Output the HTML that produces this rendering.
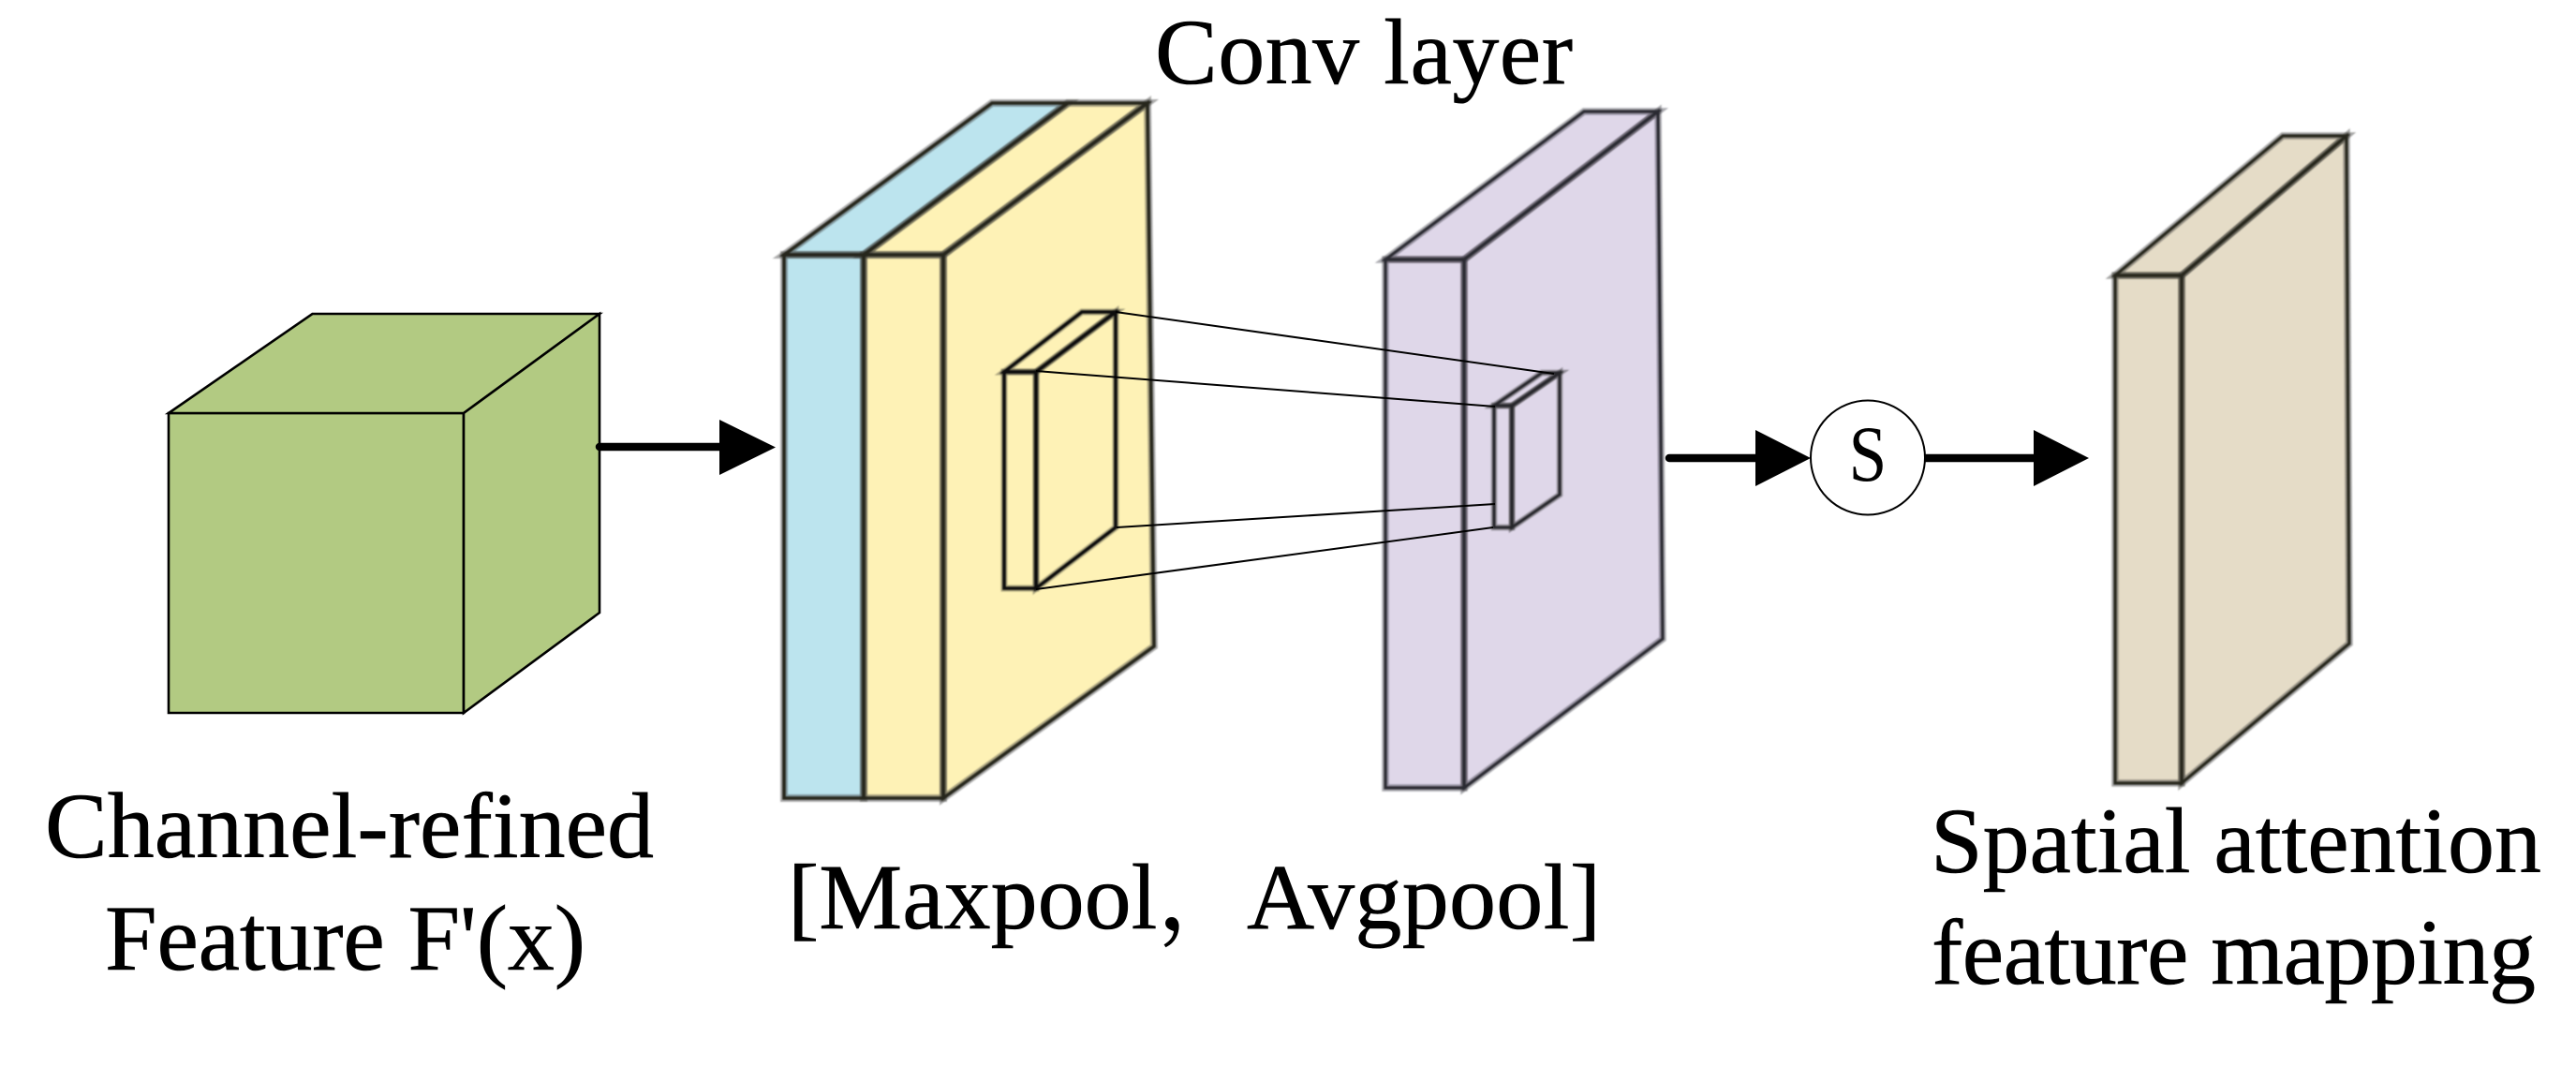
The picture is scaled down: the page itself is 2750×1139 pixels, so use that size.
<!DOCTYPE html>
<html>
<head>
<meta charset="utf-8">
<style>
html,body{margin:0;padding:0;background:#fff;width:2750px;height:1139px;overflow:hidden}
svg{display:block}
text{font-family:"Liberation Serif","Noto Serif CJK SC",serif;font-size:100px;fill:#000;stroke:#000;stroke-width:.6px}
</style>
</head>
<body>
<svg width="2750" height="1139" viewBox="0 0 2750 1139" xmlns="http://www.w3.org/2000/svg">
<defs>
<filter id="b" x="-5%" y="-5%" width="110%" height="110%"><feGaussianBlur stdDeviation="0.7"/></filter>
<g id="bl1">
<polygon points="837,272 922,272 922,852 837,852"/>
<polygon points="837,272 1059,110 1140,110 922,272"/>
<polygon points="922,272 1007,272 1007,852 922,852"/>
<polygon points="922,272 1140,110 1225,110 1007,272"/>
<polygon points="1007,272 1225,110 1232,690 1007,852"/>
</g>
<g id="in1">
<polygon points="1072,397 1106,397 1106,628 1072,628"/>
<polygon points="1072,397 1155,333 1191,333 1106,397"/>
<polygon points="1106,397 1191,333 1191,563 1106,628"/>
</g>
<g id="bl2">
<polygon points="1479,277 1563,277 1563,841 1479,841"/>
<polygon points="1479,277 1691,119 1770,119 1563,277"/>
<polygon points="1563,277 1770,119 1775,682 1563,841"/>
</g>
<g id="in2">
<polygon points="1595,433 1614,433 1614,563 1595,563"/>
<polygon points="1595,433 1646,398 1665,398 1614,433"/>
<polygon points="1614,433 1665,398 1665,528 1614,563"/>
</g>
<g id="bl3">
<polygon points="2258,294 2329,294 2329,836 2258,836"/>
<polygon points="2258,294 2437,145 2505,145 2329,294"/>
<polygon points="2329,294 2505,145 2508,687 2329,836"/>
</g>
</defs>
<rect width="2750" height="1139" fill="#fff"/>

<!-- green cube -->
<g fill="#B2CA82" stroke="#000" stroke-width="2.6" stroke-linejoin="miter">
<polygon points="180,441 495,441 495,761 180,761"/>
<polygon points="180,441 333.5,335 640,335 495,441"/>
<polygon points="495,441 640,335 640,654 495,761"/>
</g>

<!-- fills -->
<polygon points="837,272 1059,110 1140,110 922,272 922,852 837,852" fill="#BCE4EE"/>
<polygon points="922,272 1140,110 1225,110 1232,690 1007,852 922,852" fill="#FEF2B6"/>
<polygon points="1479,277 1691,119 1770,119 1775,682 1563,841 1479,841" fill="#DFD7E9"/>
<polygon points="2258,294 2437,145 2505,145 2508,687 2329,836 2258,836" fill="#E5DCC7"/>

<!-- outlines: soft halo + dark core -->
<g filter="url(#b)" fill="none" stroke-linejoin="miter">
<use href="#bl1" stroke="#3a3a34" stroke-opacity=".42" stroke-width="8"/>
<use href="#bl1" stroke="#25251f" stroke-width="3.6"/>
<use href="#in1" stroke="#3a3a30" stroke-opacity=".4" stroke-width="7"/>
<use href="#in1" stroke="#0d0d0a" stroke-width="3.6"/>
<use href="#bl2" stroke="#3a3740" stroke-opacity=".42" stroke-width="7.5"/>
<use href="#bl2" stroke="#2c2a32" stroke-width="3.2"/>
<use href="#in2" stroke="#333" stroke-opacity=".45" stroke-width="6.5"/>
<use href="#in2" stroke="#26252a" stroke-width="3"/>
<use href="#bl3" stroke="#33322c" stroke-opacity=".42" stroke-width="7.5"/>
<use href="#bl3" stroke="#26251f" stroke-width="3.2"/>
</g>

<!-- projection lines -->
<g stroke="#000" stroke-width="2" fill="none">
<line x1="1191" y1="333" x2="1659" y2="399"/>
<line x1="1106" y1="396" x2="1596" y2="434"/>
<line x1="1192" y1="563" x2="1596" y2="538"/>
<line x1="1106" y1="629" x2="1594" y2="563"/>
</g>

<!-- arrows -->
<g stroke="#000" stroke-width="8.5" stroke-linecap="round">
<line x1="640" y1="477" x2="770" y2="477"/>
<line x1="1782" y1="489" x2="1876" y2="489"/>
<line x1="2056" y1="489" x2="2173" y2="489"/>
</g>
<polygon points="768,448 828,477.5 768,507" fill="#000"/>
<polygon points="1874,459 1933,489 1874,519" fill="#000"/>
<polygon points="2171,459 2230,489 2171,519" fill="#000"/>

<!-- S circle -->
<circle cx="1994" cy="488.5" r="61" fill="#fff" stroke="#000" stroke-width="2"/>
<text transform="translate(1994,513) scale(.86,1)" text-anchor="middle" style="font-size:85px;stroke-width:0">S</text>

<!-- labels -->
<text x="1233" y="89" textLength="446" lengthAdjust="spacing">Conv layer</text>
<text x="48" y="915" textLength="650" lengthAdjust="spacing">Channel-refined</text>
<text x="112" y="1035" textLength="513" lengthAdjust="spacing">Feature F'(x)</text>
<text x="841" y="991">[Maxpool，</text>
<text x="1331" y="991" textLength="378" lengthAdjust="spacing">Avgpool]</text>
<text x="2061" y="931" textLength="652" lengthAdjust="spacing">Spatial attention</text>
<text x="2062" y="1050" textLength="645" lengthAdjust="spacing">feature mapping</text>
</svg>
</body>
</html>
